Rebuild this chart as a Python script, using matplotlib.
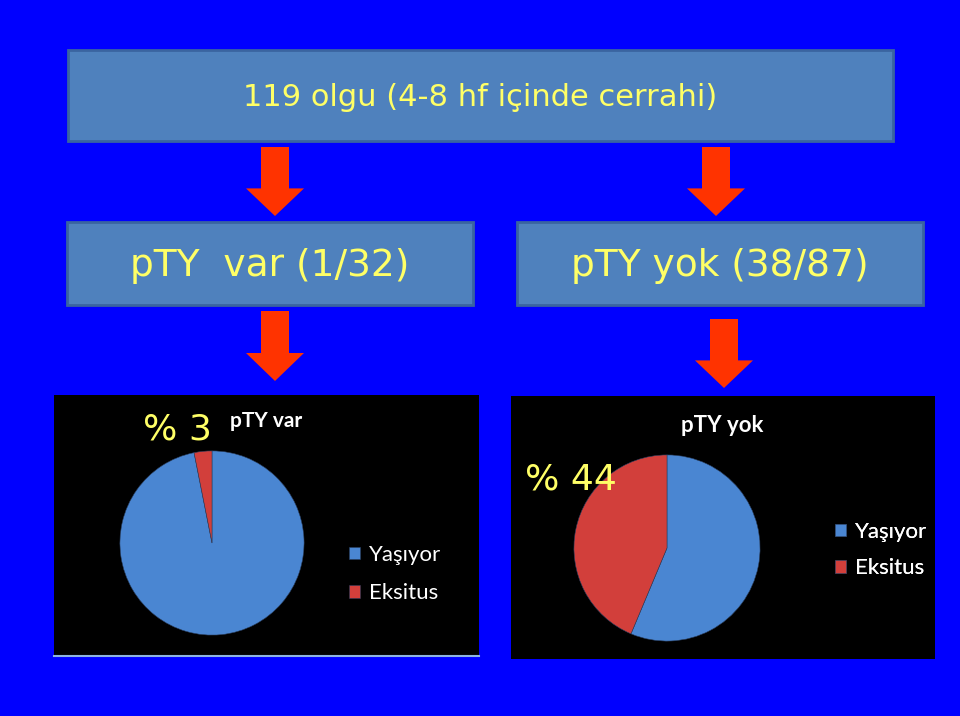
import numpy as np
import matplotlib.pyplot as plt
from matplotlib.patches import Rectangle, Polygon

# data
baslik = "119 olgu (4-8 hf içinde cerrahi)"
grup_basliklari = ["pTY  var (1/32)", "pTY yok (38/87)"]
pasta_basliklari = ["pTY var", "pTY yok"]
etiketler = ["Yaşıyor", "Eksitus"]
pty_var = [31, 1]
pty_yok = [49, 38]
oranlar = ["% 3", "% 44"]

renkler = ["#4A86D2", "#D23F3B"]
sari = "#FFFF66"
kutu = "#4F81BD"

fig = plt.figure(figsize=(9.6, 7.16), dpi=100)
fig.patch.set_facecolor("#0000FF")

ax = fig.add_axes([0, 0, 1, 1])
ax.set_xlim(0, 960)
ax.set_ylim(716, 0)
ax.axis("off")


def kutu_ciz(x0, y0, x1, y1, metin, fs):
    ax.add_patch(Rectangle((x0, y0), x1 - x0, y1 - y0, facecolor=kutu,
                           edgecolor="#3A64A0", lw=2))
    ax.text((x0 + x1) / 2, (y0 + y1) / 2 + 2, metin, color=sari, fontsize=fs,
            ha="center", va="center", family="DejaVu Sans")


def ok_ciz(cx, y0, y1):
    sw, hw = 14, 29
    yh = y0 + (y1 - y0) * 0.6
    pts = [(cx - sw, y0), (cx + sw, y0), (cx + sw, yh), (cx + hw, yh),
           (cx, y1), (cx - hw, yh), (cx - sw, yh)]
    ax.add_patch(Polygon(pts, closed=True, facecolor="#FF3300", edgecolor="none"))


kutu_ciz(68, 50, 893, 141, baslik, 22)
kutu_ciz(67, 222, 473, 305, grup_basliklari[0], 27)
kutu_ciz(517, 222, 923, 305, grup_basliklari[1], 27)

ok_ciz(275, 147, 216)
ok_ciz(716, 147, 216)
ok_ciz(275, 311, 381)
ok_ciz(724, 319, 388)

# black panels
ax.add_patch(Rectangle((54, 395), 425, 261, facecolor="black", edgecolor="none"))
ax.plot([54, 479], [656, 656], color="#8DB3E2", lw=1.5)
ax.add_patch(Rectangle((511, 396), 424, 263, facecolor="black", edgecolor="none"))


def pasta(cx, cy, r, degerler):
    pax = fig.add_axes([(cx - r) / 960, 1 - (cy + r) / 716, 2 * r / 960, 2 * r / 716])
    wedges, _ = pax.pie(degerler, colors=renkler, startangle=90, counterclock=False,
                        wedgeprops=dict(edgecolor="#2a3f60", linewidth=0.4))
    pax.set_xlim(-1.01, 1.01)
    pax.set_ylim(-1.01, 1.01)
    return wedges


w1 = pasta(212, 543, 93, pty_var)
w2 = pasta(667, 548, 94, pty_yok)

# texts on top of the pies
fig.text(177, 430, oranlar[0], color=sari, fontsize=26, ha="center", va="center",
         transform=ax.transData)
fig.text(266, 421, pasta_basliklari[0], color="white", fontsize=15, fontweight="bold",
         ha="center", va="center", family="Lato", transform=ax.transData)
fig.text(571, 480, oranlar[1], color=sari, fontsize=26, ha="center", va="center",
         transform=ax.transData)
fig.text(722, 425, pasta_basliklari[1], color="white", fontsize=16, fontweight="bold",
         ha="center", va="center", family="Lato", transform=ax.transData)

for w, (lx, ly), gap in [(w1, (349, 545), 0.82), (w2, (835, 522), 0.74)]:
    leg = ax.legend(w, etiketler, loc="upper left", bbox_to_anchor=(lx, ly),
                    bbox_transform=ax.transData, frameon=False, handlelength=0.5,
                    handleheight=0.5, handletextpad=0.4, labelspacing=gap,
                    borderpad=0, borderaxespad=0,
                    prop=dict(family="Lato", size=16), labelcolor="white")
    ax.add_artist(leg)

fig.savefig("out.png", dpi=100, facecolor=fig.get_facecolor())
